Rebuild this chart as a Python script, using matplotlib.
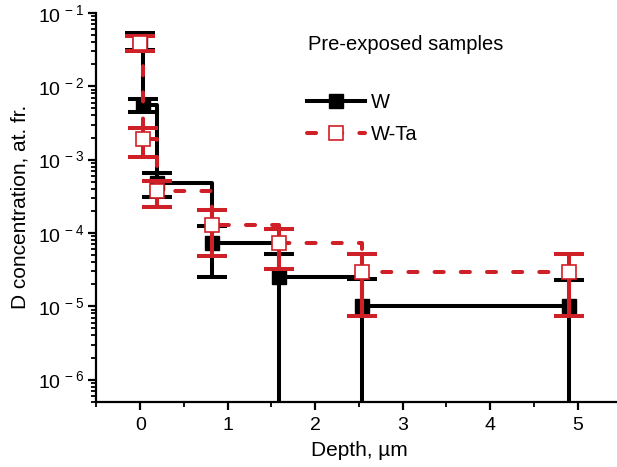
import math
import matplotlib
matplotlib.use('Agg')
import matplotlib.pyplot as plt
from matplotlib.ticker import LogLocator, MultipleLocator, FuncFormatter, NullFormatter

plt.rcParams['font.family'] = ['Liberation Sans', 'DejaVu Sans']

# depth of each layer (um) and D concentration (at. fr.) with errors
depth = [0.0, 0.03, 0.19, 0.82, 1.59, 2.53, 4.9]
w_conc = [4.2e-2, 5.6e-3, 4.8e-4, 7.4e-5, 2.5e-5, 1.02e-5, 1.02e-5]
w_err = [1.1e-2, 1.15e-3, 1.75e-4, 4.9e-5, 2.65e-5, 1.35e-5, 1.27e-5]
wta_conc = [3.9e-2, 1.9e-3, 3.7e-4, 1.28e-4, 7.35e-5, 2.95e-5, 2.95e-5]
wta_err = [0.9e-2, 0.8e-3, 1.43e-4, 0.79e-4, 4.1e-5, 2.22e-5, 2.22e-5]

black = 'black'
red = '#cf2027'

fig = plt.figure(figsize=(6.17, 4.67), dpi=100)
ax = fig.add_axes([0.1564, 0.1398, 0.8507, 0.8324])
ax.set_yscale('log', nonpositive='clip')

###  W  ###
ax.errorbar(depth, w_conc, yerr=w_err, fmt='none', ecolor=black,
            elinewidth=2.9, capsize=10.8, capthick=2.9, zorder=2)
ax.plot(depth, w_conc, drawstyle='steps-post', color=black, lw=2.9,
        marker='s', ms=10, mfc=black, mec=black, label='W', zorder=3)

###  W-Ta  ###
ax.errorbar(depth, wta_conc, yerr=wta_err, fmt='none', ecolor=red,
            elinewidth=2.9, capsize=10.8, capthick=2.9, zorder=4)
ax.plot(depth, wta_conc, drawstyle='steps-post', color=red, lw=2.9,
        linestyle=(0, (2.25, 4.25)), dash_capstyle='round',
        marker='s', ms=10, mfc='white', mec=red, mew=1.2,
        label='W-Ta', zorder=5)

ax.set_xlim(-0.5, 5.5)
ax.set_ylim(5e-7, 1e-1)

ax.xaxis.set_major_locator(MultipleLocator(1))
ax.xaxis.set_minor_locator(MultipleLocator(0.5))
ax.yaxis.set_major_locator(LogLocator(base=10))
ax.yaxis.set_minor_locator(LogLocator(base=10, subs=range(2, 10)))
ax.yaxis.set_minor_formatter(NullFormatter())
ax.yaxis.set_major_formatter(FuncFormatter(
    lambda v, p: r'$\mathdefault{10^{\,%d}}$' % round(math.log10(v))))

ax.tick_params(which='major', direction='out', length=6, width=1.6,
               labelsize=14, pad=3)
ax.tick_params(axis='x', which='major', pad=5)
ax.tick_params(which='minor', direction='out', length=3.5, width=1.3)

for s in ['top', 'right']:
    ax.spines[s].set_visible(False)
for s in ['left', 'bottom']:
    ax.spines[s].set_linewidth(1.6)

ax.set_xlabel('Depth, \u00b5m', fontsize=15, labelpad=5)
ax.set_ylabel('D concentration, at. fr.', fontsize=15, labelpad=6)

ax.text(0.403, 0.918, 'Pre-exposed samples', transform=ax.transAxes,
        fontsize=14.5, va='center', ha='left')
ax.legend(loc='center left', bbox_to_anchor=(0.401, 0.729), frameon=False,
          fontsize=14.5, numpoints=1, handlelength=2.9, handletextpad=0.25,
          labelspacing=0.62, borderpad=0, borderaxespad=0)

fig.savefig('out.png', dpi=100)
